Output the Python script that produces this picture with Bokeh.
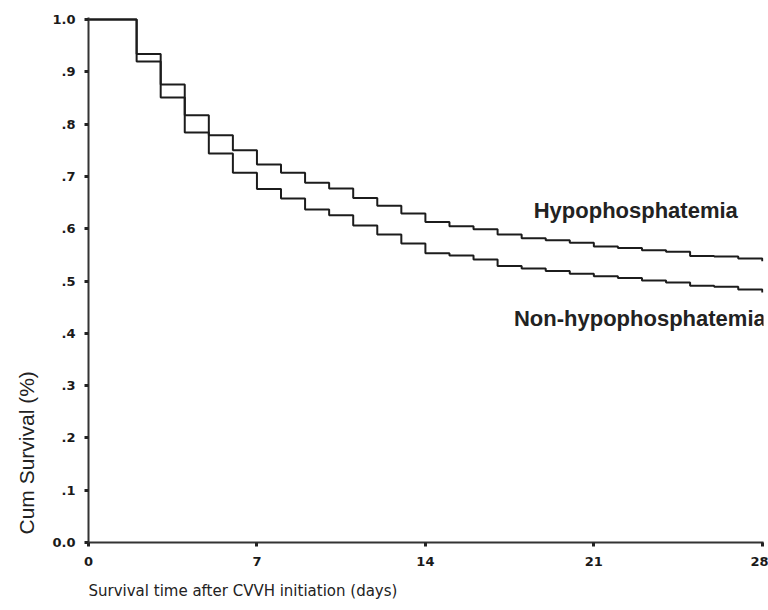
from bokeh.plotting import figure
from bokeh.models import Range1d, Label, Title, CustomJSTickFormatter
from bokeh.embed import file_html
from bokeh.resources import INLINE

# ---- data ----
step_days = [0, 2, 3, 4, 5, 6, 7, 8, 9, 10, 11, 12, 13, 14, 15, 16, 17, 18,
             19, 20, 21, 22, 23, 24, 25, 26, 27, 28]
hypo_surv = [1.0, 0.934, 0.876, 0.817, 0.779, 0.750, 0.723, 0.707, 0.688, 0.677,
             0.659, 0.644, 0.629, 0.613, 0.605, 0.599, 0.589, 0.582, 0.578, 0.573,
             0.566, 0.563, 0.559, 0.556, 0.548, 0.547, 0.543, 0.538]
non_surv = [1.0, 0.920, 0.851, 0.784, 0.744, 0.707, 0.676, 0.658, 0.637, 0.626,
            0.606, 0.589, 0.572, 0.553, 0.549, 0.541, 0.529, 0.524, 0.519, 0.514,
            0.509, 0.506, 0.501, 0.497, 0.491, 0.489, 0.484, 0.478]
x_ticks = [0, 7, 14, 21, 28]
y_ticks = [0.0, 0.1, 0.2, 0.3, 0.4, 0.5, 0.6, 0.7, 0.8, 0.9, 1.0]
series_names = ["Hypophosphatemia", "Non-hypophosphatemia"]
x_title = "Survival time after CVVH initiation (days)"
y_title = "Cum Survival (%)"

p = figure(width=768, height=610, output_backend="svg", toolbar_location=None,
           title=None, x_range=Range1d(0, 28.05), y_range=Range1d(0, 1.004),
           min_border_left=88, min_border_right=5, min_border_top=17,
           min_border_bottom=67)
p.background_fill_color = "white"
p.border_fill_color = "white"
p.outline_line_color = None
p.xgrid.visible = False
p.ygrid.visible = False

line_col = "#1c1c1c"
p.step(step_days, hypo_surv, mode="after", line_color=line_col, line_width=2)
p.step(step_days, non_surv, mode="after", line_color=line_col, line_width=2)

for ax in (p.xaxis, p.yaxis):
    ax.axis_line_color = "#333333"
    ax.axis_line_width = 2
    ax.major_tick_line_color = "#222222"
    ax.major_tick_line_width = 3
    ax.major_tick_in = 0
    ax.major_tick_out = 4
    ax.minor_tick_line_color = None
    ax.major_label_text_font = "DejaVu Sans"
    ax.major_label_text_font_style = "bold"
    ax.major_label_text_font_size = "13px"
    ax.major_label_text_color = "#1a1a1a"

p.xaxis.ticker = x_ticks
p.yaxis.ticker = y_ticks
p.xaxis.major_label_standoff = 10
p.yaxis.major_label_standoff = 9
p.yaxis.formatter = CustomJSTickFormatter(code="""
    if (tick <= 0) return '0.0';
    if (tick >= 1) return '1.0';
    return tick.toFixed(1).slice(1);
""")

# series labels
p.add_layout(Label(x=18.5, y=0.635, text=series_names[0], text_font="Liberation Sans",
                   text_font_style="bold", text_font_size="22px", text_color="#222222",
                   text_align="left", text_baseline="alphabetic"))
p.add_layout(Label(x=17.68, y=0.429, text=series_names[1], text_font="Liberation Sans",
                   text_font_style="bold", text_font_size="22px", text_color="#222222",
                   text_align="left", text_baseline="alphabetic"))

# axis titles (placed like the original, not centred)
p.add_layout(Title(text=x_title, align="left", text_font="DejaVu Sans",
                   text_font_size="15px", text_font_style="normal",
                   text_color="#222222", standoff=22, offset=0,
                   vertical_align="bottom"), "below")
p.add_layout(Title(text=y_title, align="left", text_font="Liberation Sans",
                   text_font_size="21px", text_font_style="normal",
                   text_color="#222222", standoff=24, offset=8), "left")

open("out.html", "w").write(file_html(p, INLINE))
